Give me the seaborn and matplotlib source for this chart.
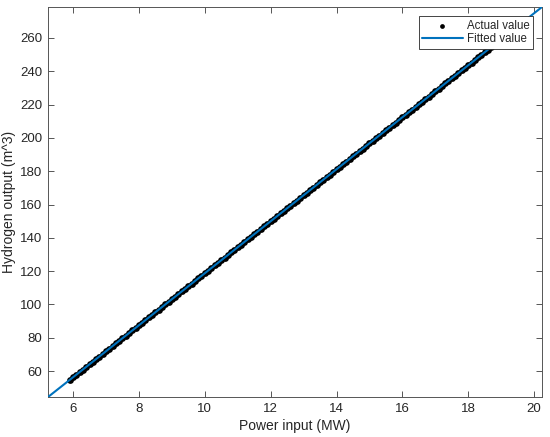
import matplotlib
matplotlib.use("Agg")
import pandas as pd
import seaborn as sns
import matplotlib.pyplot as plt

# Actual values (power input in MW, hydrogen output in m^3)
actual_x = [
    5.9, 6.0, 6.1, 6.2, 6.3, 6.4, 6.5, 6.6, 6.7, 6.8,
    6.9, 7.0, 7.1, 7.2, 7.3, 7.4, 7.5, 7.6, 7.7, 7.8,
    7.9, 8.0, 8.1, 8.2, 8.3, 8.4, 8.5, 8.6, 8.7, 8.8,
    8.9, 9.0, 9.1, 9.2, 9.3, 9.4, 9.5, 9.6, 9.7, 9.8,
    9.9, 10.0, 10.1, 10.2, 10.3, 10.4, 10.5, 10.6, 10.7, 10.8,
    10.9, 11.0, 11.1, 11.2, 11.3, 11.4, 11.5, 11.6, 11.7, 11.8,
    11.9, 12.0, 12.1, 12.2, 12.3, 12.4, 12.5, 12.6, 12.7, 12.8,
    12.9, 13.0, 13.1, 13.2, 13.3, 13.4, 13.5, 13.6, 13.7, 13.8,
    13.9, 14.0, 14.1, 14.2, 14.3, 14.4, 14.5, 14.6, 14.7, 14.8,
    14.9, 15.0, 15.1, 15.2, 15.3, 15.4, 15.5, 15.6, 15.7, 15.8,
    15.9, 16.0, 16.1, 16.2, 16.3, 16.4, 16.5, 16.6, 16.7, 16.8,
    16.9, 17.0, 17.1, 17.2, 17.3, 17.4, 17.5, 17.6, 17.7, 17.8,
    17.9, 18.0, 18.1, 18.2, 18.3, 18.4, 18.5, 18.6, 18.7, 18.8,
    18.9, 19.0, 19.1, 19.2, 19.3, 19.4, 19.5,
]
actual_y = [
    54.7, 56.3, 57.8, 59.4, 60.9, 62.5, 64.1, 65.6, 67.2, 68.7,
    70.3, 71.9, 73.4, 75.0, 76.6, 78.1, 79.7, 81.2, 82.8, 84.4,
    85.9, 87.5, 89.0, 90.6, 92.2, 93.7, 95.3, 96.8, 98.4, 100.0,
    101.5, 103.1, 104.7, 106.2, 107.8, 109.3, 110.9, 112.5, 114.0, 115.6,
    117.1, 118.7, 120.3, 121.8, 123.4, 124.9, 126.5, 128.1, 129.6, 131.2,
    132.7, 134.3, 135.9, 137.4, 139.0, 140.6, 142.1, 143.7, 145.2, 146.8,
    148.4, 149.9, 151.5, 153.0, 154.6, 156.2, 157.7, 159.3, 160.8, 162.4,
    164.0, 165.5, 167.1, 168.7, 170.2, 171.8, 173.3, 174.9, 176.5, 178.0,
    179.6, 181.1, 182.7, 184.3, 185.8, 187.4, 188.9, 190.5, 192.1, 193.6,
    195.2, 196.7, 198.3, 199.9, 201.4, 203.0, 204.6, 206.1, 207.7, 209.2,
    210.8, 212.4, 213.9, 215.5, 217.0, 218.6, 220.2, 221.7, 223.3, 224.8,
    226.4, 228.0, 229.5, 231.1, 232.7, 234.2, 235.8, 237.3, 238.9, 240.5,
    242.0, 243.6, 245.1, 246.7, 248.3, 249.8, 251.4, 252.9, 254.5, 256.1,
    257.6, 259.2, 260.8, 262.3, 263.9, 265.4, 267.0,
]

# Fitted line end points
fit_x = [5.24, 20.24]
fit_y = [44.4, 278.6]

x_ticks = [6, 8, 10, 12, 14, 16, 18, 20]
y_ticks = [60, 80, 100, 120, 140, 160, 180, 200, 220, 240, 260]


def main():
    sns.set_style("ticks")
    plt.rcParams["font.family"] = ["Liberation Sans", "DejaVu Sans"]
    plt.rcParams["font.size"] = 9.5

    df_actual = pd.DataFrame({"x": actual_x, "y": actual_y})
    df_fit = pd.DataFrame({"x": fit_x, "y": fit_y})

    fig = plt.figure(figsize=(5.5, 4.37), dpi=100)
    ax = fig.add_axes([0.0873, 0.0915, 0.8982, 0.8925])

    # Actual values as dense black dots
    sns.scatterplot(data=df_actual, x="x", y="y", ax=ax, color="black",
                    s=24, linewidth=0, label="Actual value", zorder=2)

    # Fitted line on top
    sns.lineplot(data=df_fit, x="x", y="y", ax=ax, color="#0072BD",
                 linewidth=1.5, label="Fitted value", zorder=3)

    ax.set_xlim(min(fit_x), max(fit_x))
    ax.set_ylim(min(fit_y), max(fit_y))
    ax.set_xticks(x_ticks)
    ax.set_yticks(y_ticks)

    axis_color = "#555555"
    for spine in ax.spines.values():
        spine.set_visible(True)
        spine.set_color(axis_color)
        spine.set_linewidth(0.7)
    ax.tick_params(direction="in", length=4, width=0.7, color=axis_color,
                   labelsize=9.5, labelcolor="#262626", pad=4,
                   top=True, right=True)

    ax.set_xlabel("Power input (MW)", fontsize=10, color="#262626",
                  labelpad=3)
    ax.set_ylabel("Hydrogen output (m^3)", fontsize=10, color="#262626",
                  labelpad=3)

    leg = ax.legend(loc="upper right", frameon=True, fancybox=False,
                    fontsize=8.3, borderaxespad=0.8, handlelength=3.5,
                    handletextpad=0.35, borderpad=0.3, labelspacing=0.15,
                    markerscale=0.7)
    leg.get_frame().set_edgecolor("#262626")
    leg.get_frame().set_linewidth(0.6)
    leg.get_frame().set_alpha(1)

    fig.savefig("out.png", dpi=100)


if __name__ == "__main__":
    main()
